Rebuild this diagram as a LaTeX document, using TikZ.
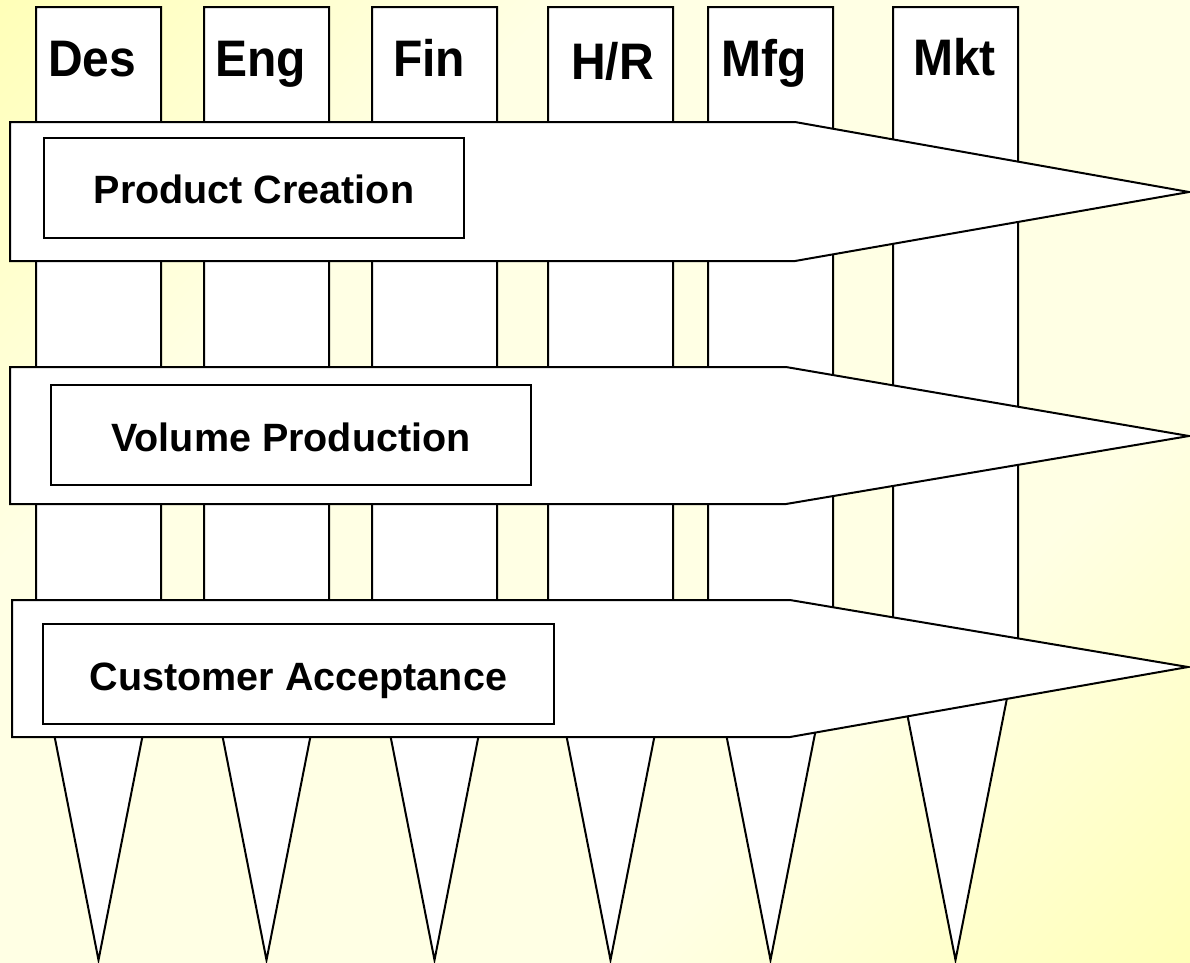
\documentclass[tikz,border=0pt]{standalone}
\usepackage{fontspec}
\setmainfont{Liberation Sans}
\definecolor{ybright}{RGB}{255,255,150}
\definecolor{ypale}{RGB}{255,255,228}
\pgfdeclareverticalshading{diagmirror}{100bp}{color(0bp)=(ybright); color(33bp)=(ypale); color(67bp)=(ypale); color(100bp)=(ybright)}
\begin{document}
\begin{tikzpicture}[x=1pt,y=-1pt,
  shapeline/.style={draw=black, line width=2pt, fill=white, line join=miter},
  head/.style={anchor=base west, inner sep=0pt, font=\fontsize{48}{56}\selectfont\bfseries},
  phase/.style={anchor=base, inner sep=0pt, font=\fontsize{39.5}{46}\selectfont\bfseries}]
\useasboundingbox (0,0) rectangle (1190,962);
\shade[shading=diagmirror, shading angle=45] (0,0) rectangle (1190,962);
% columns
\foreach \l/\r in {36/161, 204/329, 372/497, 548/673, 708/833, 893/1018}
  \draw[shapeline] (\l,7) -- (\r,7) -- (\r,642) -- ({(\l+\r)/2},960) -- (\l,642) -- cycle;
% column headings
\node[head] (des) at (48,76) {\scalebox{1}[1.07]{Des}};
\node[head] (eng) at (215,76) {\scalebox{1}[1.07]{Eng}};
\node[head] (fin) at (393,76) {\scalebox{1}[1.07]{Fin}};
\node[head] (hr)  at (571,79) {\scalebox{1}[1.07]{H/R}};
\node[head] (mfg) at (721,76) {\scalebox{1}[1.07]{Mfg}};
\node[head] (mkt) at (913,75) {\scalebox{1}[1.07]{Mkt}};
% phase arrows
\draw[shapeline] (10,122) -- (795,122) -- (1189,192) -- (795,261) -- (10,261) -- cycle;
\draw[shapeline] (10,367) -- (786,367) -- (1189,436) -- (786,504) -- (10,504) -- cycle;
\draw[shapeline] (12,600) -- (790,600) -- (1188,667) -- (790,737) -- (12,737) -- cycle;
% inner boxes
\draw[shapeline] (44,138) rectangle (464,238);
\draw[shapeline] (51,385) rectangle (531,485);
\draw[shapeline] (43,624) rectangle (554,724);
\node[phase] (pc) at (254,203) {Product Creation};
\node[phase] (vp) at (291,451.5) {Volume Production};
\node[phase] (ca) at (298.5,690) {Customer Acceptance};
\end{tikzpicture}
\end{document}
